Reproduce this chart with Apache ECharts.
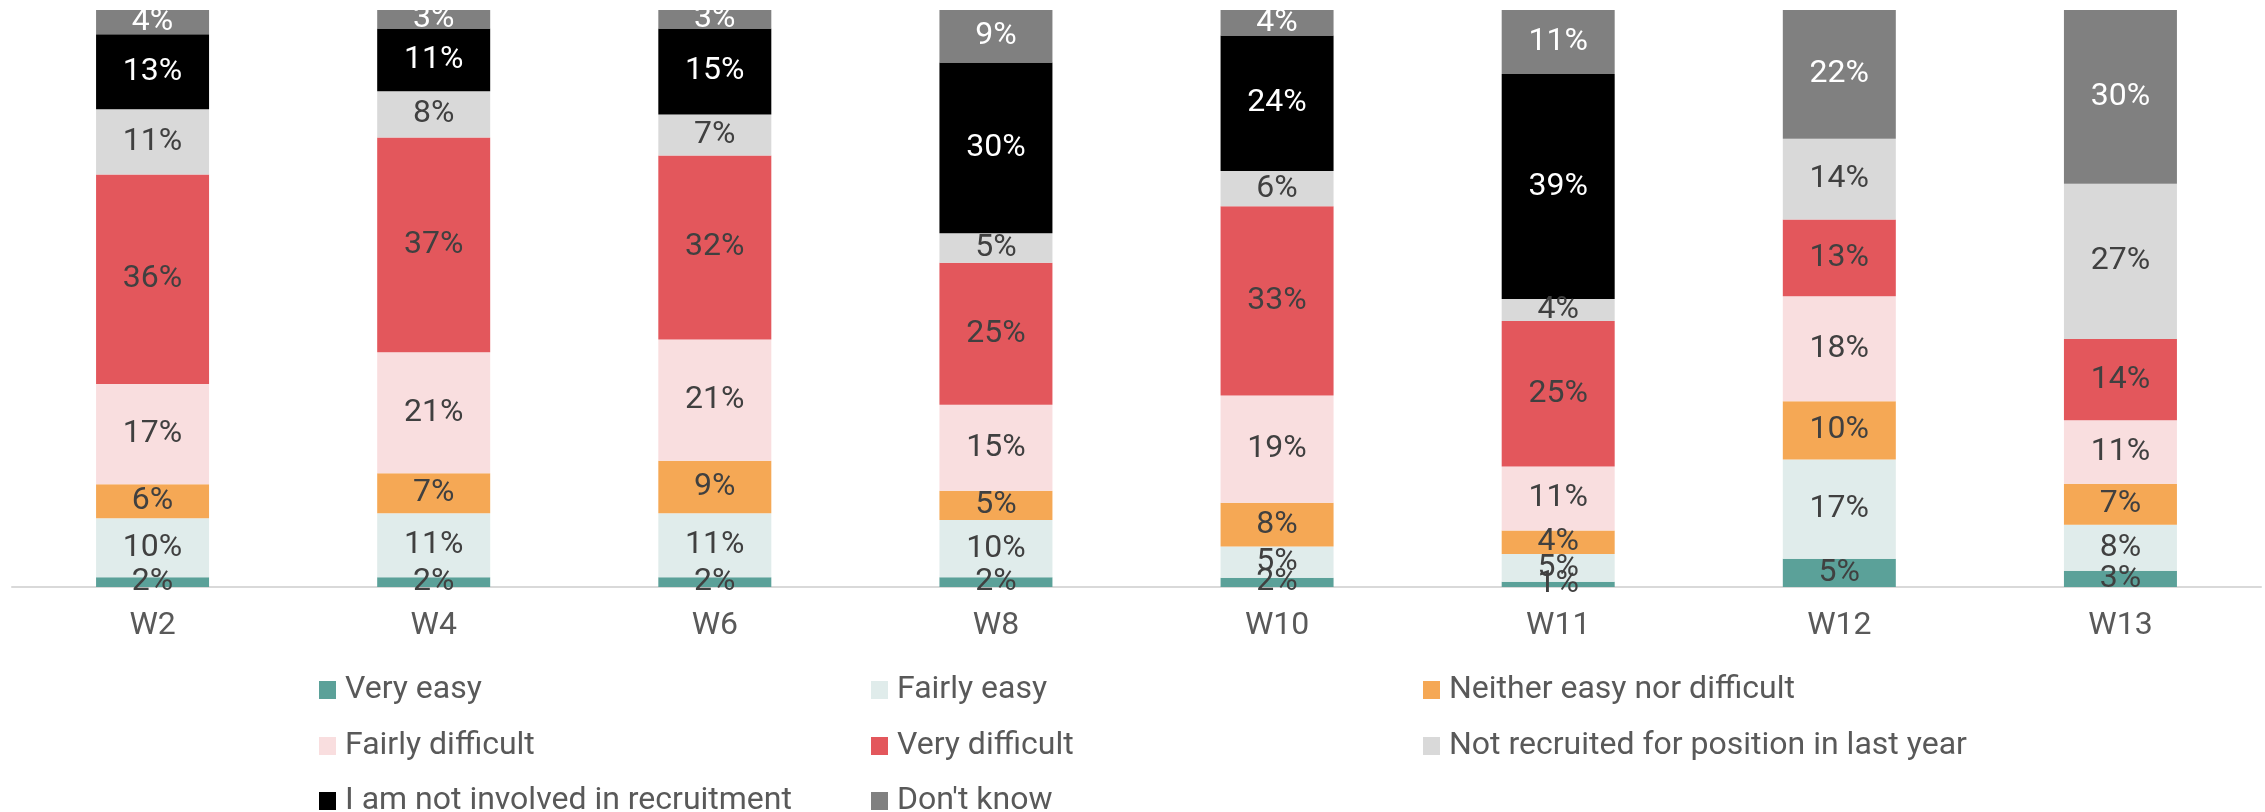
<!DOCTYPE html>
<html>
<head>
<meta charset="utf-8">
<script src="https://cdn.jsdelivr.net/npm/echarts@6/dist/echarts.min.js"></script>
<style>
  html, body { margin: 0; padding: 0; background: #fff; }
  #chart { width: 2265px; height: 812px; }
</style>
</head>
<body>
<div id="chart"></div>
<script>
// waves
var categories = ["W2", "W4", "W6", "W8", "W10", "W11", "W12", "W13"];

// shares in %
var veryEasy       = [1.7, 1.7, 1.7, 1.7, 1.6, 0.9, 4.9, 2.8];
var fairlyEasy     = [10.2, 11.1, 11.1, 9.9, 5.4, 4.8, 17.2, 8.0];
var neither        = [5.9, 6.9, 9.1, 5.1, 7.6, 4.1, 10.1, 7.1];
var fairlyDifficult = [17.4, 21.0, 21.0, 14.9, 18.6, 11.1, 18.2, 11.0];
var veryDifficult  = [36.3, 37.2, 31.9, 24.6, 32.8, 25.2, 13.3, 14.1];
var notRecruited   = [11.3, 8.0, 7.1, 5.1, 6.1, 3.8, 14.0, 26.9];
var notInvolved    = [13.0, 10.9, 14.9, 29.6, 23.5, 39.0, 0, 0];
var dontKnow       = [4.2, 3.2, 3.2, 9.1, 4.4, 11.1, 22.3, 30.1];

var names = [
    "Very easy", "Fairly easy", "Neither easy nor difficult",
    "Fairly difficult", "Very difficult", "Not recruited for position in last year",
    "I am not involved in recruitment", "Don't know"
];
var values = [veryEasy, fairlyEasy, neither, fairlyDifficult, veryDifficult, notRecruited, notInvolved, dontKnow];
var colors = ["#5BA199", "#E0ECEB", "#F5A855", "#F9DEDF", "#E3575C", "#D9D9D9", "#000000", "#808080"];
var labelColors = ["#404040", "#404040", "#404040", "#404040", "#404040", "#404040", "#ffffff", "#ffffff"];

var chart = echarts.init(document.getElementById("chart"));

var series = names.map(function (n, i) {
    return {
        name: n,
        type: "bar",
        stack: "total",
        barWidth: 113,
        data: values[i],
        itemStyle: { color: colors[i] },
        label: {
            show: true,
            position: "inside",
            color: labelColors[i],
            fontSize: 32,
            fontFamily: "Roboto",
            formatter: function (p) {
                return p.value ? Math.round(p.value) + "%" : "";
            }
        }
    };
});

// legend laid out as a 3-column grid, one legend per item
var legendLeft = [319, 871, 1423];
var legendTop = [674, 730, 785];
var legends = names.map(function (n, i) {
    return {
        data: [n],
        left: legendLeft[i % 3],
        top: legendTop[Math.floor(i / 3)],
        padding: 0,
        icon: "rect",
        itemWidth: 17,
        itemHeight: 18,
        selectedMode: false,
        textStyle: { color: "#595959", fontSize: 32, fontFamily: "Roboto", padding: [0, 0, 0, 4] }
    };
});

var option = {
    animation: false,
    grid: { left: 12, right: 4, top: 10, bottom: 225 },
    legend: legends,
    xAxis: {
        type: "category",
        data: categories,
        axisLine: { lineStyle: { color: "#D9D9D9", width: 2 } },
        axisTick: { show: false },
        axisLabel: { color: "#595959", fontSize: 32, fontFamily: "Roboto", margin: 23 }
    },
    yAxis: {
        type: "value",
        min: 0,
        max: 100,
        show: false
    },
    series: series
};

chart.setOption(option);
</script>
</body>
</html>
